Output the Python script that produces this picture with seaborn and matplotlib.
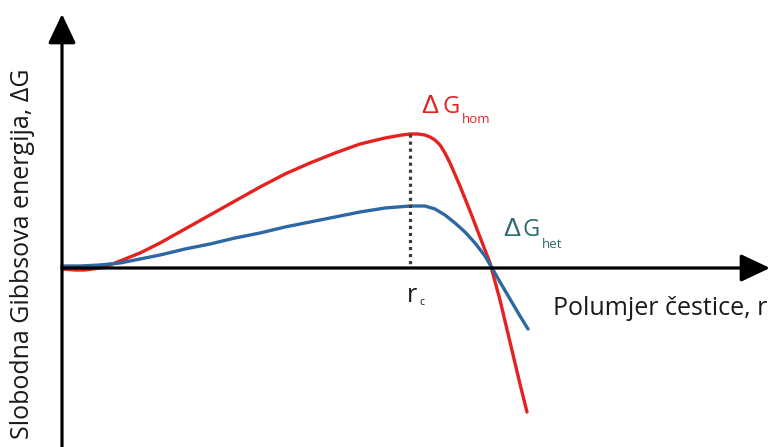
import matplotlib
matplotlib.use("Agg")
import matplotlib.pyplot as plt
import seaborn as sns

# curves: r (particle radius), dG (free energy), arbitrary units
r_hom = [0, 13, 23, 38, 48, 63, 78, 98, 123, 148, 173, 198, 223, 248, 273, 298, 323, 340,
         348, 356, 363, 368, 373, 378, 383, 388, 398, 408, 418, 428, 438, 448, 458, 465]
dG_hom = [-1, -2, -2, 0, 3, 9, 15, 25, 39, 53, 67, 81, 94, 105, 115, 124, 130, 133,
          134, 134, 133, 131, 128, 123, 115, 105, 82, 57, 31, 5, -32, -74, -116, -144]

r_het = [0, 18, 38, 58, 78, 98, 123, 148, 173, 198, 223, 248, 273, 298, 323, 348,
         363, 373, 383, 393, 403, 413, 423, 430, 438, 448, 458, 466]
dG_het = [2, 2, 3, 5, 9, 13, 19, 24, 30, 35, 41, 46, 51, 56, 60, 62,
          62, 59, 53, 45, 36, 25, 12, 0, -14, -31, -48, -61]

r_c = 348
dG_c_hom = 134

red = "#e42320"
blue = "#2e68a4"
teal = "#2b6b71"
ink = "#1a1a1a"

sns.set_theme(style="white")
plt.rcParams["font.family"] = ["Open Sans", "DejaVu Sans"]

fig = plt.figure(figsize=(7.71, 4.47), dpi=100)
ax = fig.add_axes([0, 0, 1, 1])
ax.set_xlim(-62, 709)
ax.set_ylim(-179, 268)
ax.axis("off")

# axes with arrow heads
arrow = dict(arrowstyle="-|>,head_length=18,head_width=8.5", mutation_scale=1,
             lw=2.3, color="black", shrinkA=0, shrinkB=0)
ax.annotate("", xy=(708, 0), xytext=(0, 0), arrowprops=arrow)
ax.annotate("", xy=(0, 254), xytext=(0, -182), arrowprops=arrow)

sns.lineplot(x=r_hom, y=dG_hom, sort=False, color=red, lw=2.4, ax=ax,
             solid_joinstyle="round")
sns.lineplot(x=r_het, y=dG_het, sort=False, color=blue, lw=2.4, ax=ax,
             solid_joinstyle="round")

ax.plot([r_c, r_c], [dG_c_hom, 2], color="#3a3a3a", lw=2.3, linestyle=(0, (1, 1.2)))

# labels
delta = ["Liberation Sans"]
ax.text(359, 155, "Δ", color=red, fontsize=18.5, va="baseline", family=delta)
ax.text(380, 155, "G", color=red, fontsize=17, va="baseline")
ax.text(400, 145, "hom", color=red, fontsize=9.5, va="baseline")
ax.text(441, 32, "Δ", color=teal, fontsize=18.5, va="baseline", family=delta)
ax.text(461, 32, "G", color=teal, fontsize=17, va="baseline")
ax.text(480, 20, "het", color=teal, fontsize=9.5, va="baseline")
ax.text(345, -34, "r", color=ink, fontsize=18, va="baseline")
ax.text(357, -37, "c", color=ink, fontsize=7.5, va="baseline")
ax.text(491, -47, "Polumjer čestice, r", color=ink, fontsize=18, va="baseline")
ax.text(-39, 14, "Slobodna Gibbsova energija, ΔG", color=ink, fontsize=18,
        rotation=90, ha="center", va="center")

fig.savefig("out.png", dpi=100)
